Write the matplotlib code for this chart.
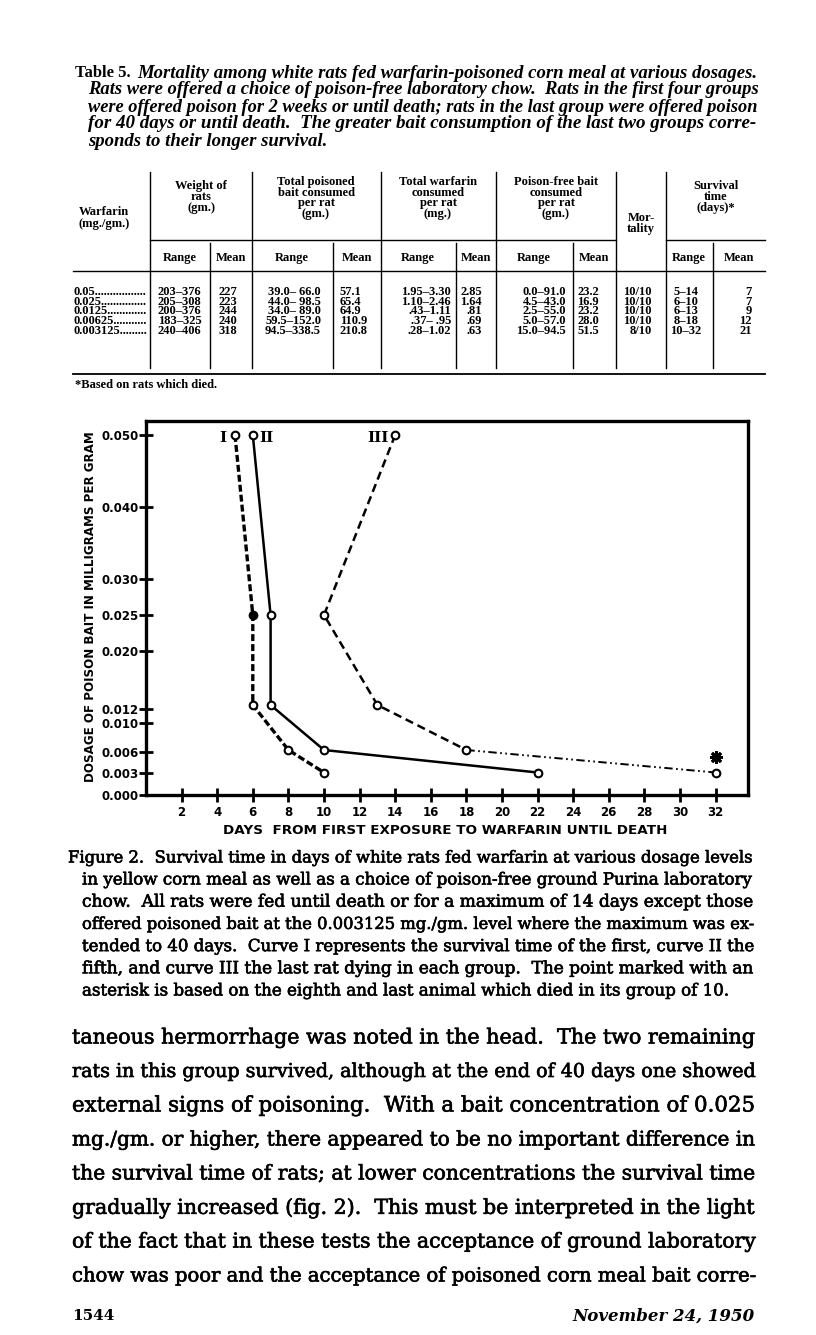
import matplotlib
matplotlib.use("Agg")
import matplotlib.pyplot as plt
from matplotlib.lines import Line2D
import matplotlib.patheffects as pe

plt.rcParams['lines.scale_dashes'] = False

# ---------------- data ----------------
title_lines = [
    "Mortality among white rats fed warfarin-poisoned corn meal at various dosages.",
    "Rats were offered a choice of poison-free laboratory chow.  Rats in the first four groups",
    "were offered poison for 2 weeks or until death; rats in the last group were offered poison",
    "for 40 days or until death.  The greater bait consumption of the last two groups corre-",
    "sponds to their longer survival.",
]
warfarin_levels = ["0.05", "0.025", "0.0125", "0.00625", "0.003125"]
weight_range = ["203\u2013376", "205\u2013308", "200\u2013376", "183\u2013325", "240\u2013406"]
weight_mean = ["227", "223", "244", "240", "318"]
bait_range = ["39.0\u2013 66.0", "44.0\u2013 98.5", "34.0\u2013 89.0", "59.5\u2013152.0", "94.5\u2013338.5"]
bait_mean = ["57.1", "65.4", "64.9", "110.9", "210.8"]
warf_range = ["1.95\u20133.30", "1.10\u20132.46", ".43\u20131.11", ".37\u2013 .95", ".28\u20131.02"]
warf_mean = ["2.85", "1.64", ".81", ".69", ".63"]
free_range = ["0.0\u201391.0", "4.5\u201343.0", "2.5\u201355.0", "5.0\u201357.0", "15.0\u201394.5"]
free_mean = ["23.2", "16.9", "23.2", "28.0", "51.5"]
mortality = ["10/10", "10/10", "10/10", "10/10", "8/10"]
surv_range = ["5\u201314", "6\u201310", "6\u201313", "8\u201318", "10\u201332"]
surv_mean = ["7", "7", "9", "12", "21"]

dose = [0.05, 0.025, 0.0125, 0.00625, 0.003125]
days_first = [5, 6, 6, 8, 10]
days_fifth = [6, 7, 7, 10, 22]
days_last = [14, 10, 13, 18, 32]
asterisk_day, asterisk_dose = 32, 0.0053
ytick_vals = [0.0, 0.003, 0.006, 0.010, 0.012, 0.020, 0.025, 0.030, 0.040, 0.050]
ytick_labels = ["0.000", "0.003", "0.006", "0.010", "0.012", "0.020", "0.025", "0.030", "0.040", "0.050"]
xtick_vals = list(range(2, 33, 2))

caption_lines = [
    "Figure 2.  Survival time in days of white rats fed warfarin at various dosage levels",
    "in yellow corn meal as well as a choice of poison-free ground Purina laboratory",
    "chow.  All rats were fed until death or for a maximum of 14 days except those",
    "offered poisoned bait at the 0.003125 mg./gm. level where the maximum was ex-",
    "tended to 40 days.  Curve I represents the survival time of the first, curve II the",
    "fifth, and curve III the last rat dying in each group.  The point marked with an",
    "asterisk is based on the eighth and last animal which died in its group of 10.",
]
body_lines = [
    "taneous hermorrhage was noted in the head.  The two remaining",
    "rats in this group survived, although at the end of 40 days one showed",
    "external signs of poisoning.  With a bait concentration of 0.025",
    "mg./gm. or higher, there appeared to be no important difference in",
    "the survival time of rats; at lower concentrations the survival time",
    "gradually increased (fig. 2).  This must be interpreted in the light",
    "of the fact that in these tests the acceptance of ground laboratory",
    "chow was poor and the acceptance of poisoned corn meal bait corre-",
]

# ---------------- figure ----------------
W, H = 816, 1335
fig = plt.figure(figsize=(W / 100, H / 100), dpi=100)
fig.patch.set_facecolor("white")
bg = fig.add_axes([0, 0, 1, 1], zorder=0)
bg.set_xlim(0, W)
bg.set_ylim(H, 0)
bg.axis("off")
renderer = fig.canvas.get_renderer()

SERIF = "DejaVu Serif"
TIMES = "Liberation Serif"
SANS = "DejaVu Sans"
ink = [pe.withStroke(linewidth=0.45, foreground="black")]


def put(x, y, s, size, ha="left", va="center", family=SERIF, weight="normal", style="normal", **kw):
    return bg.text(x, y, s, fontsize=size, ha=ha, va=va, family=family,
                   weight=weight, style=style, clip_on=False, **kw)


def fit(x0, x1, y, s, size, **kw):
    t = put(x0, y, s, size, **kw)
    w = t.get_window_extent(renderer).width
    t.set_fontsize(size * (x1 - x0) / w)
    return t


def hline(x0, x1, y, lw=1.0):
    bg.add_line(Line2D([x0, x1], [y, y], color="black", lw=lw))


def vline(x, y0, y1, lw=1.0):
    bg.add_line(Line2D([x, x], [y0, y1], color="black", lw=lw))


# ---- table title ----
tk = dict(family=TIMES, weight="bold", style="italic")
sizes = [fit(137, 757, 73, title_lines[0], 11, **tk).get_fontsize()]
for i, ln in enumerate(title_lines[1:4]):
    sizes.append(fit(88, 757, 90 + 17 * i, ln, 11, **tk).get_fontsize())
tsz = sum(sizes) / len(sizes)
put(88, 141, title_lines[4], tsz, **tk)
fit(75, 130, 73, "Table 5.", 11, family=TIMES, weight="bold")

# ---- table grid ----
for x in [150, 252, 381, 496, 616, 666]:
    vline(x, 172, 368)
for x in [210, 333, 456, 573, 713]:
    vline(x, 243, 368)
hline(150, 616, 240)
hline(666, 765, 240)
hline(73, 765, 271)
hline(73, 765, 374, lw=1.3)

TS = 9.0
hdr = dict(ha="center", weight="bold", family=TIMES)
put(104, 212, "Warfarin", TS, **hdr)
put(104, 224, "(mg./gm.)", TS, **hdr)
for j, s in enumerate(["Weight of", "rats", "(gm.)"]):
    put(201, 186 + 11 * j, s, TS, **hdr)
for j, s in enumerate(["Total poisoned", "bait consumed", "per rat", "(gm.)"]):
    put(316, 182 + 10.5 * j, s, TS, **hdr)
for j, s in enumerate(["Total warfarin", "consumed", "per rat", "(mg.)"]):
    put(438, 182 + 10.5 * j, s, TS, **hdr)
for j, s in enumerate(["Poison-free bait", "consumed", "per rat", "(gm.)"]):
    put(556, 182 + 10.5 * j, s, TS, **hdr)
put(641, 218, "Mor-", TS, **hdr)
put(641, 229, "tality", TS, **hdr)
for j, s in enumerate(["Survival", "time", "(days)*"]):
    put(716, 186 + 11 * j, s, TS, **hdr)
for xc, s in [(180, "Range"), (231, "Mean"), (292, "Range"), (357, "Mean"),
              (418, "Range"), (476, "Mean"), (534, "Range"), (594, "Mean"),
              (689, "Range"), (739, "Mean")]:
    put(xc, 258, s, TS, **hdr)

row_y = [292, 302, 311.5, 321, 331]
dk = dict(weight="bold", family=TIMES)
for yy, v in zip(row_y, warfarin_levels):
    t = put(73, yy, v, TS, **dk)
    s = v
    while t.get_window_extent(renderer).width < 71:
        s += "."
        t.set_text(s)
cols = [
    (weight_range, 158, "left"),
    (weight_mean, 237, "right"),
    (bait_range, 321, "right"),
    (bait_mean, 340, "left"),
    (warf_range, 451, "right"),
    (warf_mean, 482, "right"),
    (free_range, 566, "right"),
    (free_mean, 577, "left"),
    (mortality, 652, "right"),
    (surv_range, 686, "center"),
    (surv_mean, 752, "right"),
]
for vals, x, ha in cols:
    for yy, v in zip(row_y, vals):
        put(x, yy, v, TS, ha=ha, **dk)
put(75, 385, "*Based on rats which died.", TS, **dk)

# ---------------- chart ----------------
x0p, x1p, y0p, y1p = 146, 748, 421, 795
ax = fig.add_axes([x0p / W, 1 - y1p / H, (x1p - x0p) / W, (y1p - y0p) / H], zorder=2)
ax.patch.set_alpha(0)
px_per_day = 17.8
ax.set_xlim(0, (x1p - x0p) / px_per_day)
ax.set_ylim(0, (y1p - y0p) / 7200.0)
for sp in ax.spines.values():
    sp.set_linewidth(2.4)

# curve I
ax.plot(days_first, dose, color="black", lw=2.4, dashes=[5, 2.2])
# curve II
ax.plot(days_fifth, dose, color="black", lw=1.8)
# curve III
ax.plot(days_last[:4], dose[:4], color="black", lw=1.8, dashes=[6, 3.5])
ax.plot(days_last[3:], dose[3:], color="black", lw=1.4, dashes=[6, 2.5, 1.2, 2.5, 1.2, 2.5])

mk = dict(marker="o", ls="none", ms=5.5, mew=1.5, mec="black", mfc="white", zorder=5)
ax.plot(days_first[:1] + days_first[2:], dose[:1] + dose[2:], **mk)
ax.plot(days_first[1:2], dose[1:2], **{**mk, "mfc": "black"})
ax.plot(days_fifth, dose, **mk)
ax.plot(days_last, dose, **mk)
ax.plot([asterisk_day], [asterisk_dose], marker=(8, 2, 0), ms=9, mew=2, color="black", ls="none")

lab = dict(textcoords="offset points", va="center", family=SERIF, weight="bold", fontsize=11)
ax.annotate("I", xy=(days_first[0], dose[0]), xytext=(-6, -2), ha="right", **lab)
ax.annotate("II", xy=(days_fifth[0], dose[0]), xytext=(5, -2), ha="left", **lab)
ax.annotate("III", xy=(days_last[0], dose[0]), xytext=(-4.5, -2), ha="right", **lab)

ax.set_xticks(xtick_vals)
ax.set_xticklabels([str(v) for v in xtick_vals])
ax.set_yticks(ytick_vals)
ax.set_yticklabels(ytick_labels)
ax.tick_params(direction="inout", length=10, width=2, labelsize=8.5)
ax.tick_params(axis="y", pad=0)
ax.tick_params(axis="x", pad=3)
for t in ax.get_xticklabels() + ax.get_yticklabels():
    t.set_family(SANS)
    t.set_weight("bold")

put(91, 607, "DOSAGE OF POISON BAIT IN MILLIGRAMS PER GRAM", 8.6, ha="center",
    family=SANS, weight="bold", rotation=90)
put(445, 830, "DAYS  FROM FIRST EXPOSURE TO WARFARIN UNTIL DEATH", 9.7, ha="center",
    family=SANS, weight="bold")

# ---- caption ----
csz = [fit(68, 755, 858, caption_lines[0], 10, path_effects=ink).get_fontsize()]
for i, ln in enumerate(caption_lines[1:6]):
    csz.append(fit(82, 755, 880 + 22.2 * i, ln, 10, path_effects=ink).get_fontsize())
put(82, 991, caption_lines[6], sum(csz) / len(csz), path_effects=ink)

# ---- body text ----
for i, ln in enumerate(body_lines):
    fit(72, 755, 1038 + 34 * i, ln, 13, path_effects=ink)

put(72, 1316, "1544", 11, weight="bold")
put(755, 1316, "November 24, 1950", 12, ha="right", weight="bold", style="italic")

fig.savefig("out.png", dpi=100, facecolor="white")
